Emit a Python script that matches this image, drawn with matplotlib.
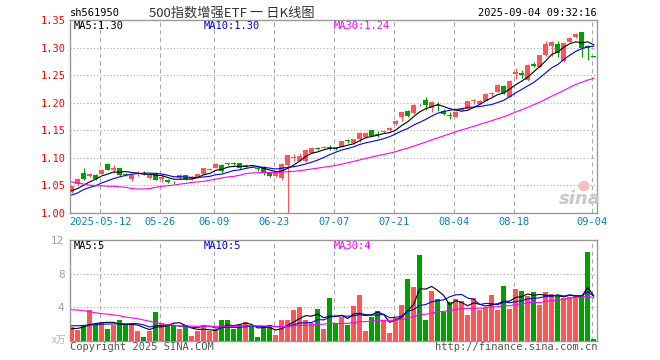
import numpy as np
import pandas as pd
import matplotlib
matplotlib.use("Agg")
from matplotlib import pyplot as plt
from matplotlib.patches import Ellipse

# daily bars, 2025-04-30 .. 2025-09-04 (88 trading days)
opens = [1.038, 1.052, 1.072, 1.067, 1.069, 1.071, 1.089, 1.078, 1.081, 1.070,
         1.062, 1.071, 1.073, 1.063, 1.071, 1.062, 1.059, 1.056, 1.063, 1.068,
         1.062, 1.064, 1.070, 1.078, 1.082, 1.087, 1.089, 1.090, 1.090, 1.083,
         1.085, 1.081, 1.083, 1.072, 1.066, 1.063, 1.087, 1.099, 1.094, 1.093,
         1.109, 1.118, 1.118, 1.119, 1.118, 1.120, 1.132, 1.126, 1.133, 1.138,
         1.150, 1.143, 1.146, 1.151, 1.161, 1.173, 1.185, 1.181, 1.196, 1.205,
         1.191, 1.196, 1.185, 1.177, 1.174, 1.187, 1.189, 1.202, 1.198, 1.203,
         1.216, 1.220, 1.231, 1.211, 1.252, 1.253, 1.241, 1.270, 1.265, 1.286,
         1.303, 1.307, 1.275, 1.310, 1.319, 1.328, 1.302, 1.284]
highs = [1.049, 1.063, 1.082, 1.072, 1.070, 1.080, 1.090, 1.086, 1.082, 1.072,
         1.070, 1.075, 1.075, 1.070, 1.072, 1.068, 1.062, 1.057, 1.070, 1.069,
         1.067, 1.071, 1.082, 1.081, 1.090, 1.088, 1.090, 1.092, 1.091, 1.088,
         1.086, 1.082, 1.084, 1.073, 1.073, 1.090, 1.105, 1.107, 1.109, 1.116,
         1.119, 1.119, 1.121, 1.123, 1.119, 1.131, 1.134, 1.134, 1.147, 1.147,
         1.151, 1.148, 1.149, 1.155, 1.168, 1.183, 1.186, 1.197, 1.198, 1.211,
         1.202, 1.201, 1.189, 1.183, 1.184, 1.192, 1.203, 1.207, 1.204, 1.217,
         1.219, 1.233, 1.232, 1.241, 1.262, 1.259, 1.270, 1.274, 1.287, 1.312,
         1.311, 1.312, 1.310, 1.319, 1.327, 1.329, 1.304, 1.285]
lows = [1.036, 1.051, 1.060, 1.064, 1.059, 1.070, 1.077, 1.072, 1.067, 1.066,
        1.058, 1.066, 1.068, 1.062, 1.059, 1.055, 1.054, 1.053, 1.062, 1.060,
        1.059, 1.063, 1.068, 1.077, 1.081, 1.072, 1.086, 1.087, 1.080, 1.082,
        1.083, 1.075, 1.069, 1.065, 1.065, 1.059, 1.000, 1.093, 1.093, 1.092,
        1.108, 1.113, 1.117, 1.113, 1.113, 1.119, 1.126, 1.125, 1.129, 1.135,
        1.139, 1.138, 1.145, 1.149, 1.160, 1.166, 1.174, 1.180, 1.193, 1.186,
        1.182, 1.185, 1.177, 1.170, 1.173, 1.186, 1.188, 1.197, 1.197, 1.202,
        1.210, 1.219, 1.216, 1.210, 1.243, 1.245, 1.240, 1.264, 1.264, 1.285,
        1.285, 1.283, 1.274, 1.309, 1.318, 1.283, 1.277, 1.283]
closes = [1.048, 1.062, 1.062, 1.070, 1.062, 1.078, 1.078, 1.082, 1.068, 1.068,
          1.069, 1.073, 1.071, 1.069, 1.060, 1.064, 1.056, 1.055, 1.069, 1.061,
          1.064, 1.070, 1.081, 1.080, 1.089, 1.075, 1.088, 1.089, 1.081, 1.087,
          1.084, 1.079, 1.072, 1.066, 1.072, 1.089, 1.104, 1.101, 1.103, 1.114,
          1.118, 1.116, 1.120, 1.117, 1.116, 1.130, 1.130, 1.133, 1.145, 1.144,
          1.140, 1.142, 1.148, 1.153, 1.167, 1.182, 1.175, 1.196, 1.195, 1.196,
          1.201, 1.194, 1.179, 1.175, 1.183, 1.191, 1.202, 1.204, 1.203, 1.216,
          1.218, 1.232, 1.217, 1.240, 1.255, 1.251, 1.268, 1.266, 1.286, 1.307,
          1.310, 1.290, 1.309, 1.318, 1.325, 1.300, 1.300, 1.283]
# volume, x10k
vols = [1.56, 1.20, 1.88, 3.60, 1.88, 2.08, 1.40, 1.88, 2.40, 1.88,
        1.96, 1.16, 0.36, 1.16, 3.44, 2.08, 1.88, 1.80, 1.40, 1.80,
        0.56, 1.08, 1.88, 1.08, 1.40, 2.48, 2.48, 1.40, 1.80, 2.24,
        1.68, 0.36, 1.68, 1.88, 0.68, 2.40, 2.48, 3.60, 3.96, 2.40,
        2.08, 3.80, 1.32, 5.08, 2.08, 2.76, 1.88, 4.08, 5.48, 1.16,
        2.76, 3.56, 2.48, 0.88, 2.68, 4.28, 7.40, 6.36, 10.16, 2.48,
        5.88, 5.00, 3.36, 4.56, 5.00, 4.76, 3.08, 5.08, 3.68, 4.00,
        5.48, 3.68, 6.56, 3.80, 6.20, 5.96, 5.28, 5.76, 4.28, 5.76,
        5.60, 5.36, 5.08, 5.16, 5.36, 5.48, 10.56, 0.20]

# moving averages before the window is full
ma5_head = [1.040, 1.044, 1.050, 1.056]
ma10_head = [1.032, 1.036, 1.042, 1.046, 1.049, 1.054, 1.058, 1.062, 1.065]
ma30_head = [1.056, 1.054, 1.052, 1.050, 1.049, 1.049, 1.048, 1.048, 1.047, 1.046,
             1.044, 1.043, 1.043, 1.044, 1.046, 1.048, 1.049, 1.050, 1.052, 1.053,
             1.055, 1.056, 1.057, 1.059, 1.061, 1.063, 1.065, 1.066, 1.068]
vma5_head = [1.40, 1.45, 1.60, 1.90]
vma10_head = [1.76, 1.76, 1.80, 1.85, 1.90, 1.95, 1.96, 1.98, 2.00]
vma30_head = [3.68, 3.64, 3.56, 3.44, 3.30, 3.20, 3.15, 3.05, 2.95, 2.80,
              2.70, 2.60, 2.45, 2.30, 2.15, 2.00, 1.90, 1.82, 1.76, 1.74,
              1.72, 1.70, 1.70, 1.70, 1.70, 1.70, 1.70, 1.70, 1.70]

tick_labels = ["2025-05-12", "05-26", "06-09", "06-23", "07-07",
               "07-21", "08-04", "08-18", "09-04"]
tick_idx = [5, 15, 24, 34, 44, 54, 64, 74, 87]


def moving(values, n, head):
    s = pd.Series(values).rolling(n).mean().to_numpy()
    s[:n - 1] = head
    return s


RED = "#ff5555"
GREEN = "#00a000"
GRID = "#aaaaaa"
MONO = "DejaVu Sans Mono"
CJK = ["Noto Sans CJK SC", "DejaVu Sans"]
LW = 0.8

o = np.array(opens)
h = np.array(highs)
l = np.array(lows)
c = np.array(closes)
v = np.array(vols)
x = np.arange(len(c))
up = c >= o
cols = np.where(up, RED, GREEN)

fig = plt.figure(figsize=(6.6, 3.6), dpi=100)
W, H = 660.0, 360.0
ax = fig.add_axes([70 / W, 1 - 212.7 / H, 527.3 / W, 192.7 / H])
axv = fig.add_axes([70 / W, 1 - 340.5 / H, 527.3 / W, 100.5 / H])

# price panel
ax.vlines(x, l, h, colors=cols, linewidth=LW, zorder=3)
body_low = np.minimum(o, c)
body_h = np.maximum(np.abs(c - o), 0.0015)
ax.bar(x, body_h, bottom=body_low, width=0.8, color=cols, linewidth=0, zorder=3)

ax.plot(x, moving(closes, 5, ma5_head), color="black", lw=LW, zorder=4)
ax.plot(x, moving(closes, 10, ma10_head), color="#0000ff", lw=LW, zorder=4)
ax.plot(x, moving(closes, 30, ma30_head), color="#ff00ff", lw=LW, zorder=4)

ax.set_ylim(1.00, 1.35)
ax.set_xlim(-0.28, 87.6)
ax.set_yticks([1.00, 1.05, 1.10, 1.15, 1.20, 1.25, 1.30, 1.35])
ax.set_yticklabels(["%.2f" % t for t in ax.get_yticks()], family=MONO,
                   fontsize=7.5, color="red")
for yv in [1.05, 1.10, 1.15, 1.20, 1.25, 1.30]:
    ax.axhline(yv, color=GRID, lw=LW, ls=(0, (1, 2)), zorder=1)
ax.set_xticks([t - 0.22 for t in tick_idx])
ax.set_xticklabels(tick_labels, family=MONO, fontsize=7.5, color="#0a7fd0")
ax.tick_params(length=0, pad=3)

# volume panel
axv.bar(x, v, width=0.85, color=cols, linewidth=0, zorder=3)
axv.plot(x, moving(vols, 5, vma5_head), color="black", lw=LW, zorder=4)
axv.plot(x, moving(vols, 10, vma10_head), color="#0000ff", lw=LW, zorder=4)
axv.plot(x, moving(vols, 30, vma30_head), color="#ff00ff", lw=LW, zorder=4)
axv.set_ylim(0, 12)
axv.set_xlim(-0.28, 87.6)
axv.set_yticks([4, 8, 12])
axv.set_yticklabels(["4", "8", "12"], fontsize=7.5, color="#a0a0a0")
axv.set_xticks([])
axv.tick_params(length=0, pad=4)
for yv in [4, 8]:
    axv.axhline(yv, color=GRID, lw=LW, ls=(0, (1, 2)), zorder=1)

for a in (ax, axv):
    for t in tick_idx:
        a.axvline(t - 0.22, color=GRID, lw=LW, ls=(0, (4, 3)), zorder=1)
    for sp in a.spines.values():
        sp.set_color("#999999")
        sp.set_linewidth(1)


def ftext(px, py, s, **kw):
    fig.text(px / W, 1 - py / H, s, va="center", **kw)


ftext(70, 13, "sh561950", family=MONO, fontsize=7.5, color="black")
ftext(232, 13, "500指数增强ETF 一 日K线图", family=CJK, fontsize=9.5,
      color="#333333", ha="center")
ftext(597, 13, "2025-09-04 09:32:16", family=MONO, fontsize=7.5,
      color="black", ha="right")

ftext(74, 26, "MA5:1.30", family=MONO, fontsize=7.5, color="black")
ftext(204, 26, "MA10:1.30", family=MONO, fontsize=7.5, color="#0000ff")
ftext(334, 26, "MA30:1.24", family=MONO, fontsize=7.5, color="#ff00ff")
ftext(74, 246, "MA5:5", family=MONO, fontsize=7.5, color="black")
ftext(204, 246, "MA10:5", family=MONO, fontsize=7.5, color="#0000ff")
ftext(334, 246, "MA30:4", family=MONO, fontsize=7.5, color="#ff00ff")

ftext(66, 340, "x万", family=CJK, fontsize=7, color="#b0b0b0", ha="right")
ftext(70, 347, "Copyright 2025 SINA.COM", family=MONO, fontsize=7.5,
      color="#555555")
ftext(597, 347, "http://finance.sina.com.cn", family=MONO, fontsize=7.5,
      color="#555555", ha="right")

# watermark: eye mark + word
fig.add_artist(Ellipse((584 / W, 1 - 186 / H), 10 / W, 9 / H,
                       color="#f4c0c0", transform=fig.transFigure))
ftext(580, 199, "sina", fontsize=13, color="#c8c8c8", ha="center",
      style="italic", weight="bold")

fig.savefig("out.png", dpi=100)
